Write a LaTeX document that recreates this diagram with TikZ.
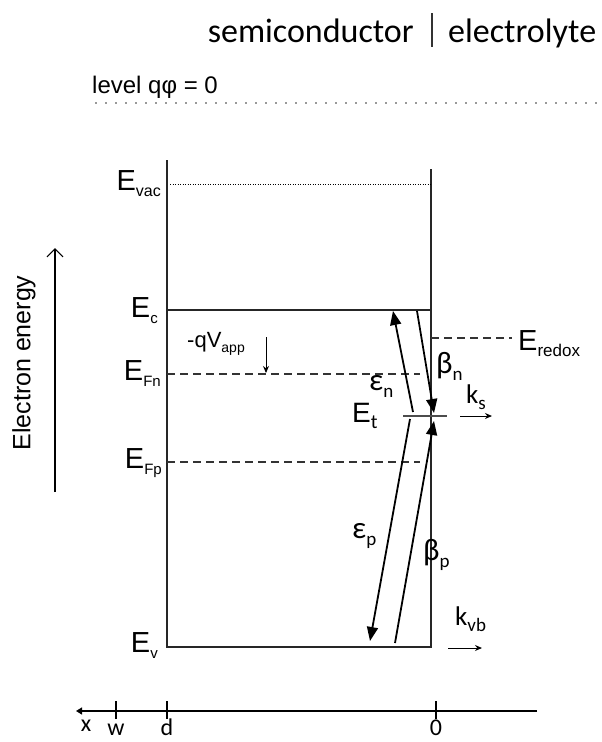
\documentclass[tikz,border=0pt]{standalone}
\usepackage{fontspec}
\setmainfont{Liberation Sans}
\newfontfamily\calfont{Carlito}
\usetikzlibrary{arrows.meta,positioning}
\newcommand\sbs[2][16]{\raisebox{-0.24em}{\fontsize{#1}{#1}\selectfont #2}}

\begin{document}
\begin{tikzpicture}[
  x=1pt, y=-1pt,
  band/.style={line width=1.6pt, black!85},
  fermi/.style={line width=1.6pt, black!80, dash pattern=on 8pt off 5pt},
  rate/.style={line width=1.8pt, -{Triangle[length=14pt,width=11pt]}},
  flux/.style={line width=1pt, -{Stealth[length=7pt,width=6pt]}},
  elab/.style={anchor=base east, inner sep=0pt, font=\fontsize{29}{31}\selectfont},
  glab/.style={anchor=base west, inner sep=0pt, font=\calfont\fontsize{31}{33}\selectfont},
  ttl/.style={inner sep=0pt, font=\calfont\fontsize{34}{36}\selectfont},
  axlab/.style={anchor=base, inner sep=0pt, font=\calfont\fontsize{24}{26}\selectfont}
]
\useasboundingbox (0,0) rectangle (602,742);

\node[ttl, anchor=base east] (semi) at (414,42) {semiconductor};
\node[ttl, anchor=base west] (elec) at (448,42) {electrolyte};
\draw[line width=1.2pt, black!80] (432,13) -- (432,47);

\node[anchor=base west, inner sep=0pt, font=\fontsize{24}{26}\selectfont] (lvl) at (92,93) {level qφ = 0};
\coordinate (ref0) at (95,103);
\coordinate (ref1) at (602,103);
\draw[line width=2pt, black!40, dash pattern=on 2pt off 8pt] (ref0) -- (ref1);

\coordinate (topL) at (167,160);
\coordinate (botL) at (167,647);
\coordinate (topR) at (431,169);
\coordinate (botR) at (431,647);
\coordinate (vacL) at (170,184);
\coordinate (vacR) at (431,184);
\coordinate (cbL) at (167,310);
\coordinate (cbR) at (431,310);
\coordinate (fnL) at (167,374);
\coordinate (fnR) at (420,374);
\coordinate (fpL) at (167,462);
\coordinate (fpR) at (420,462);
\coordinate (rdL) at (431,338);
\coordinate (rdR) at (512,338);
\coordinate (trL) at (403,416);
\coordinate (trR) at (447,416);

\draw[band] (topL) -- (botL) -- (botR) -- (topR);
\draw[band] (cbL) -- (cbR);
\draw[line width=1pt, dash pattern=on 1pt off 1.5pt] (vacL) -- (vacR);
\draw[fermi] (fnL) -- (fnR);
\draw[fermi] (fpL) -- (fpR);
\draw[fermi] (rdL) -- (rdR);
\draw[line width=2pt, black!70] (trL) -- (trR);

\node[elab] (evac) at (161,190) {E\sbs{vac}};
\node[elab] (ec) at (158,317) {E\sbs[15]{c}};
\node[elab] (efn) at (161,380) {E\sbs[15]{Fn}};
\node[elab] (efp) at (162,468) {E\sbs[15]{Fp}};
\node[elab] (ev) at (158,652) {E\sbs[15]{v}};
\node[anchor=base west, inner sep=0pt, font=\fontsize{29}{31}\selectfont] (ered) at (518,350) {E\sbs[17]{redox}};

\node[anchor=base west, inner sep=0pt, font=\fontsize{22}{24}\selectfont] (qv) at (187,347) {-qV\sbs[14]{app}};
\coordinate (qv0) at (266,337);
\coordinate (qv1) at (266,373);
\draw[flux] (qv0) -- (qv1);

\coordinate (en0) at (413,412);
\coordinate (en1) at (393,311);
\coordinate (bn0) at (417,311);
\coordinate (bn1) at (434,413);
\coordinate (ep0) at (410,419);
\coordinate (ep1) at (370,641);
\coordinate (bp0) at (395,643);
\coordinate (bp1) at (434,421);
\draw[rate] (en0) -- (en1);
\draw[rate] (bn0) -- (bn1);
\draw[rate] (ep0) -- (ep1);
\draw[rate] (bp0) -- (bp1);

\node[glab] (epsn) at (369,390) {ε\sbs[19]{n}};
\node[glab] (betn) at (436,373) {β\sbs[19]{n}};
\node[glab] (epsp) at (352,538) {ε\sbs[19]{p}};
\node[glab] (betp) at (423,560) {β\sbs[19]{p}};
\node[anchor=base west, inner sep=0pt, font=\fontsize{28}{30}\selectfont] (et) at (352,422) {E\sbs[20]{\calfont t}};

\node[glab, font=\calfont\fontsize{27}{29}\selectfont] (ks) at (466,403) {k\sbs[19]{s}};
\coordinate (ks0) at (460,416);
\coordinate (ks1) at (492,416);
\draw[flux] (ks0) -- (ks1);
\node[glab, font=\calfont\fontsize{27}{29}\selectfont] (kvb) at (455,625) {k\sbs[19]{vb}};
\coordinate (kv0) at (448,648);
\coordinate (kv1) at (482,648);
\draw[flux] (kv0) -- (kv1);

\coordinate (ea0) at (55,492);
\coordinate (ea1) at (55,248);
\draw[line width=1.2pt, -{Straight Barb[length=8pt,width=16pt]}] (ea0) -- (ea1);
\node[rotate=90, inner sep=0pt, font=\fontsize{25}{27}\selectfont] (eng) at (24,363) {Electron energy};

\coordinate (xa0) at (537,711);
\coordinate (xa1) at (76,711);
\draw[line width=1.2pt, -{Triangle[length=6pt,width=7pt]}] (xa0) -- (xa1);
\coordinate (tw) at (116,711);
\coordinate (td) at (167,711);
\coordinate (t0) at (436,711);
\foreach \t in {tw,td,t0}
  \draw[line width=1.2pt] ([yshift=-8]\t) -- ([yshift=10]\t);
\node[axlab] (lx) at (86,731) {x};
\node[axlab] (lw) at (116,735) {w};
\node[axlab] (ld) at (167,735) {d};
\node[axlab] (l0) at (436,735) {0};

\end{tikzpicture}
\end{document}
